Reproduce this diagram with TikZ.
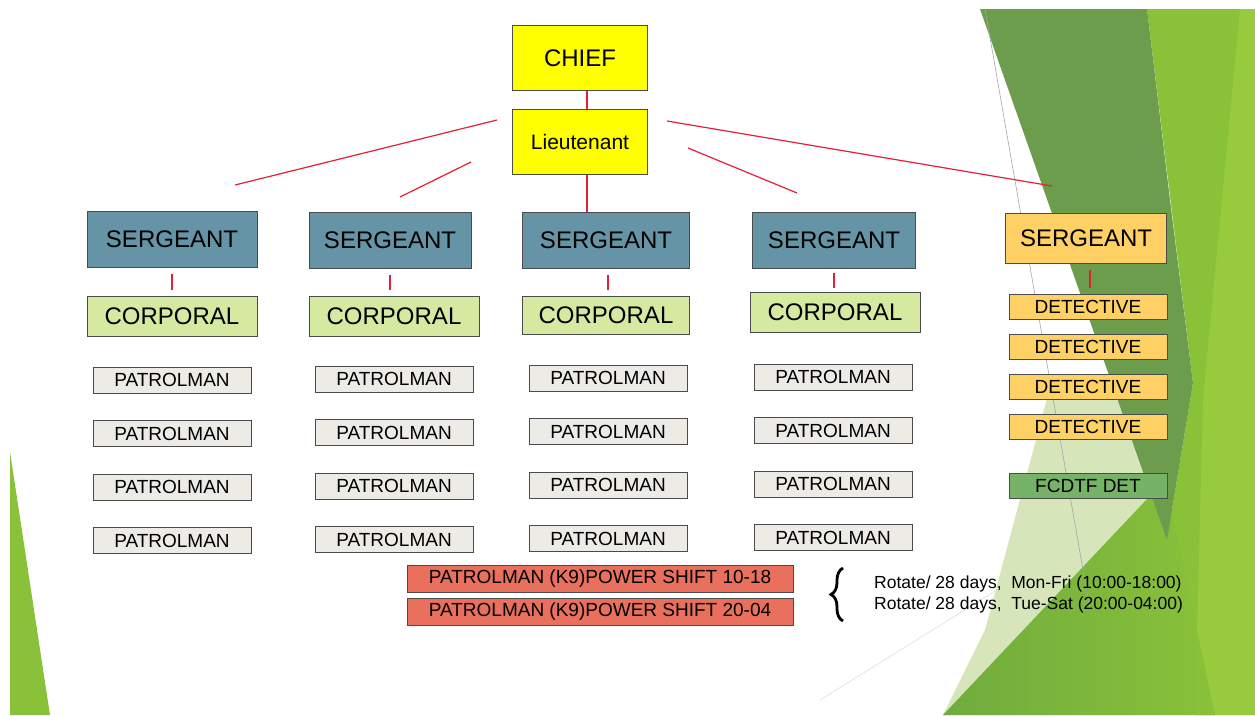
\documentclass[tikz,border=0pt]{standalone}
\usepackage{fontspec}
\setmainfont{Liberation Sans}
\usepackage{xcolor}
\usetikzlibrary{decorations.pathreplacing}
\definecolor{chiefyellow}{RGB}{255,255,0}
\definecolor{sgtblue}{RGB}{100,148,165}
\definecolor{cplgreen}{RGB}{214,233,160}
\definecolor{ptlgray}{RGB}{236,235,230}
\definecolor{detorange}{RGB}{255,208,100}
\definecolor{taskgreen}{RGB}{118,178,104}
\definecolor{kninesalmon}{RGB}{232,112,92}
\definecolor{boxedge}{RGB}{75,75,75}
\definecolor{linkred}{RGB}{228,32,52}
\definecolor{darkfacet}{RGB}{108,157,76}
\definecolor{brightfacet}{RGB}{137,193,57}
\definecolor{midfacet}{RGB}{112,172,62}
\definecolor{lightfacet}{RGB}{152,202,62}
\definecolor{palefacet}{RGB}{214,230,186}

\tikzset{
  rank/.style={draw=boxedge, line width=1pt, inner sep=0pt, text=black},
  chiefbox/.style={rank, fill=chiefyellow, minimum width=135pt, minimum height=65pt,
    font={\fontsize{24}{28}\selectfont}},
  ltbox/.style={chiefbox, font={\fontsize{21}{25}\selectfont}},
  sgtbox/.style={rank, fill=sgtblue, minimum height=56pt, font={\fontsize{24}{28}\selectfont}},
  cplbox/.style={rank, fill=cplgreen, minimum width=170pt, minimum height=40pt,
    font={\fontsize{24}{28}\selectfont}},
  ptlbox/.style={rank, fill=ptlgray, minimum width=158pt, minimum height=26pt,
    font={\fontsize{19}{22}\selectfont}},
  detbox/.style={ptlbox, fill=detorange, minimum height=25pt},
  taskbox/.style={ptlbox, fill=taskgreen, minimum height=25pt},
  kninebox/.style={ptlbox, fill=kninesalmon, minimum width=386pt, minimum height=27pt},
  link/.style={linkred, line width=1.2pt},
  tick/.style={link, shorten <=6pt, shorten >=6pt},
}

\begin{document}
\begin{tikzpicture}[x=1pt, y=-1pt]
  \useasboundingbox (0,0) rectangle (1255,715);
  \fill[white] (0,0) rectangle (1255,715);
  % slide facets
  \fill[brightfacet] (1147,9) -- (1255,9) -- (1255,715) -- (943,715) -- (1167,540) -- (1193,383) -- cycle;
  \fill[lightfacet] (1240,9) -- (1255,9) -- (1255,715) -- (1195,715) -- (1203,400) -- cycle;
  \fill[palefacet] (943,715) -- (985,630) -- (1048,395) -- (1125,385) -- (1167,540) -- cycle;
  \shade[left color=midfacet, right color=brightfacet] (943,715) -- (1165,480) -- (1215,715) -- cycle;
  \fill[darkfacet] (980,9) -- (1147,9) -- (1170,200) -- (1193,383) -- (1167,540) -- cycle;
  \fill[brightfacet] (10,452) -- (50,715) -- (10,715) -- cycle;
  \draw[gray!70, line width=0.6pt] (985,9) -- (1090,610);
  \draw[gray!25, line width=0.6pt] (820,700) -- (1000,588);

  % command
  \node[chiefbox] (chief) at (580,58) {CHIEF};
  \node[ltbox] (lt) at (580,142) {Lieutenant};

  % sergeants and corporals
  \node[sgtbox, minimum width=170pt] (s1) at (172,239) {SERGEANT};
  \node[sgtbox, minimum width=162pt] (s2) at (390,240) {SERGEANT};
  \node[sgtbox, minimum width=167pt] (s3) at (606,240) {SERGEANT};
  \node[sgtbox, minimum width=163pt] (s4) at (834,240) {SERGEANT};
  \node[sgtbox, fill=detorange, minimum width=161pt, minimum height=50pt] (s5) at (1086,238) {SERGEANT};
  \node[cplbox] (c1) at (172,316) {CORPORAL};
  \node[cplbox] (c2) at (394,316) {CORPORAL};
  \node[cplbox, minimum width=167pt, minimum height=38pt] (c3) at (606,315) {CORPORAL};
  \node[cplbox] (c4) at (835,312) {CORPORAL};

  % patrol shifts
  \foreach \cx/\cy [count=\k] in {172/380, 394/379, 608/378, 833/377} {
    \foreach \r in {0,...,3}
      \node[ptlbox] (p\k\r) at (\cx, {\cy+\r*53.5}) {PATROLMAN};
  }

  % detectives
  \foreach \r in {0,...,3}
    \node[detbox] (d\r) at (1088, {307+\r*40}) {DETECTIVE};
  \node[taskbox] (fcdtf) at (1088,486) {FCDTF DET};

  % K9 power shifts
  \node[kninebox] (kone) at (600,579) {PATROLMAN (K9)POWER SHIFT 10-18};
  \node[kninebox] (ktwo) at (600,612) {PATROLMAN (K9)POWER SHIFT 20-04};
  \draw[decorate, decoration={brace, amplitude=12pt}, line width=2.8pt]
    (843,621) -- (843,568);
  \node[anchor=west, align=left, inner sep=0pt, font={\fontsize{17.5}{21}\selectfont}] (rotation) at (874,594)
    {Rotate/ 28 days,~ Mon-Fri (10:00-18:00)\\Rotate/ 28 days,~ Tue-Sat (20:00-04:00)};

  % links
  \draw[link] ([xshift=7pt]chief.south) -- ([xshift=7pt]lt.north);
  \draw[link] ([xshift=7pt]lt.south) -- ([xshift=7pt]lt.south |- s3.north);
  \coordinate (lfa) at (497,120);
  \coordinate (lfb) at (235,185);
  \coordinate (lna) at (471,162);
  \coordinate (lnb) at (400,197);
  \coordinate (rna) at (688,148);
  \coordinate (rnb) at (797,193);
  \coordinate (rfa) at (667,121);
  \coordinate (rfb) at (1052,186);
  \draw[link] (lfa) -- (lfb);
  \draw[link] (lna) -- (lnb);
  \draw[link] (rna) -- (rnb);
  \draw[link] (rfa) -- (rfb);
  \draw[tick] (s1.south) -- (c1.north);
  \draw[tick] (s2.south) -- (s2.south |- c2.north);
  \draw[tick] ([xshift=2pt]s3.south) -- ([xshift=2pt]c3.north);
  \draw[tick, shorten <=4pt, shorten >=4pt] (s4.south) -- (s4.south |- c4.north);
  \draw[tick] ([xshift=4pt]s5.south) -- ([xshift=4pt]s5.south |- d0.north);
\end{tikzpicture}
\end{document}
